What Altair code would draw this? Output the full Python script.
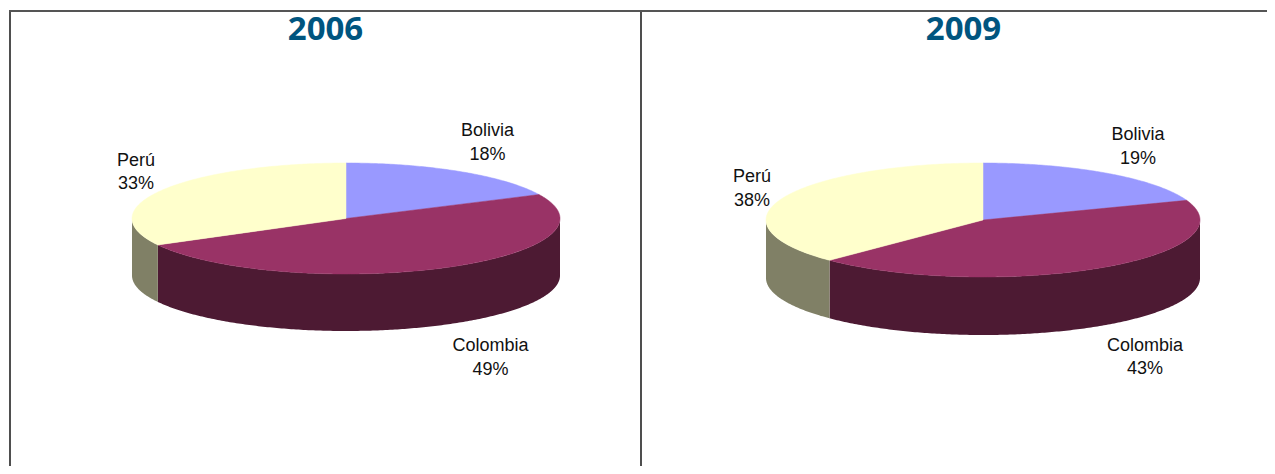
import math
import altair as alt
import pandas as pd

# Chart values (share of each country per year; label = rounded share)
years = ["2006", "2009"]
countries = ["Bolivia", "Colombia", "Perú"]
shares_2006 = [17.9, 49.2, 32.9]
shares_2009 = [19.4, 43.1, 37.5]
shares = {"2006": shares_2006, "2009": shares_2009}
share_labels = {"2006": ["18%", "49%", "33%"], "2009": ["19%", "43%", "38%"]}

# Style and layout
top_colors = ["#9999FF", "#993366", "#FFFFCC"]
side_colors = ["#4D4D80", "#4D1A33", "#808066"]
title_color = "#00557F"
pie_geometry = {  # cx, cy, rx, ry, depth
    "2006": (346, 218.5, 214, 55.5, 57),
    "2009": (983, 220, 217, 57, 58),
}
title_x = {"2006": 325.5, "2009": 963.5}
label_anchor = {  # label centre x, first baseline, second baseline
    ("2006", "Bolivia"): (487.5, 135.5, 159.5),
    ("2006", "Colombia"): (490.5, 351, 375),
    ("2006", "Perú"): (136, 166, 189),
    ("2009", "Bolivia"): (1138, 140, 164),
    ("2009", "Colombia"): (1145, 351, 374),
    ("2009", "Perú"): (752, 182, 206),
}

W, H = 1259, 458
x_scale = alt.Scale(domain=[8, 8 + W], range=[0, W], nice=False, zero=False)
y_scale = alt.Scale(domain=[8, 8 + H], range=[0, H], nice=False, zero=False)
X = lambda f="x": alt.X(f"{f}:Q", scale=x_scale, axis=None)
Y = lambda f="y": alt.Y(f"{f}:Q", scale=y_scale, axis=None)


def rim(geo, deg):
    cx, cy, rx, ry, _ = geo
    t = math.radians(deg)
    return cx + rx * math.sin(t), cy - ry * math.cos(t)


layers = []

for year in years:
    geo = pie_geometry[year]
    depth = geo[4]
    start = 0.0
    for i, share in enumerate(shares[year]):
        end = start + share * 3.6
        steps = max(2, int((end - start) * 1.5))
        angles = [start + (end - start) * k / steps for k in range(steps + 1)]

        # Side wall: only the front half of the rim is visible
        lo, hi = max(start, 90.0), min(end, 270.0)
        if hi > lo:
            n = max(2, int((hi - lo) * 1.5))
            wall = []
            for k in range(n + 1):
                px, py = rim(geo, lo + (hi - lo) * k / n)
                wall.append({"x": px, "y": py, "y2": py + depth})
            layers.append(
                alt.Chart(pd.DataFrame(wall))
                .mark_area(color=side_colors[i], interpolate="linear", opacity=1)
                .encode(x=X(), y=Y(), y2="y2:Q")
            )

        # Top face of the slice
        pts = [(geo[0], geo[1])] + [rim(geo, a) for a in angles] + [(geo[0], geo[1])]
        face = pd.DataFrame(
            [{"x": p[0], "y": p[1], "k": j} for j, p in enumerate(pts)]
        )
        layers.append(
            alt.Chart(face)
            .mark_line(fill=top_colors[i], stroke=top_colors[i], strokeWidth=0.5)
            .encode(x=X(), y=Y(), order="k:Q")
        )
        start = end

# Percent and country labels
rows = []
for year in years:
    for c, lab in zip(countries, share_labels[year]):
        ax, b1, b2 = label_anchor[(year, c)]
        rows.append({"x": ax, "y": b1, "t": c})
        rows.append({"x": ax, "y": b2, "t": lab})
layers.append(
    alt.Chart(pd.DataFrame(rows))
    .mark_text(font="Liberation Sans", fontSize=18, color="#111111", baseline="alphabetic", align="center")
    .encode(x=X(), y=Y(), text="t:N")
)

# Year titles
layers.append(
    alt.Chart(pd.DataFrame([{"x": title_x[y], "y": 40, "t": y} for y in years]))
    .mark_text(font="Open Sans", fontSize=33, fontWeight="bold", color=title_color, baseline="alphabetic", align="center")
    .encode(x=X(), y=Y(), text="t:N")
)

# Table frame
frame_v = pd.DataFrame({"x": [10, 641], "y": [11, 11], "y2": [8 + H, 8 + H]})
frame_h = pd.DataFrame({"x": [9], "x2": [8 + W], "y": [11]})
layers.append(
    alt.Chart(frame_v)
    .mark_rule(color="#222222", strokeWidth=1.6)
    .encode(x=X(), y=Y(), y2="y2:Q")
)
layers.append(
    alt.Chart(frame_h)
    .mark_rule(color="#555555", strokeWidth=2)
    .encode(x=X(), x2="x2:Q", y=Y())
)

chart = (
    alt.layer(*layers)
    .properties(width=W, height=H, padding=0, background="white", autosize=alt.AutoSizeParams(type="none"))
    .configure_view(stroke=None)
)

chart.save("out.html", embed_options={"renderer": "svg", "actions": False})
